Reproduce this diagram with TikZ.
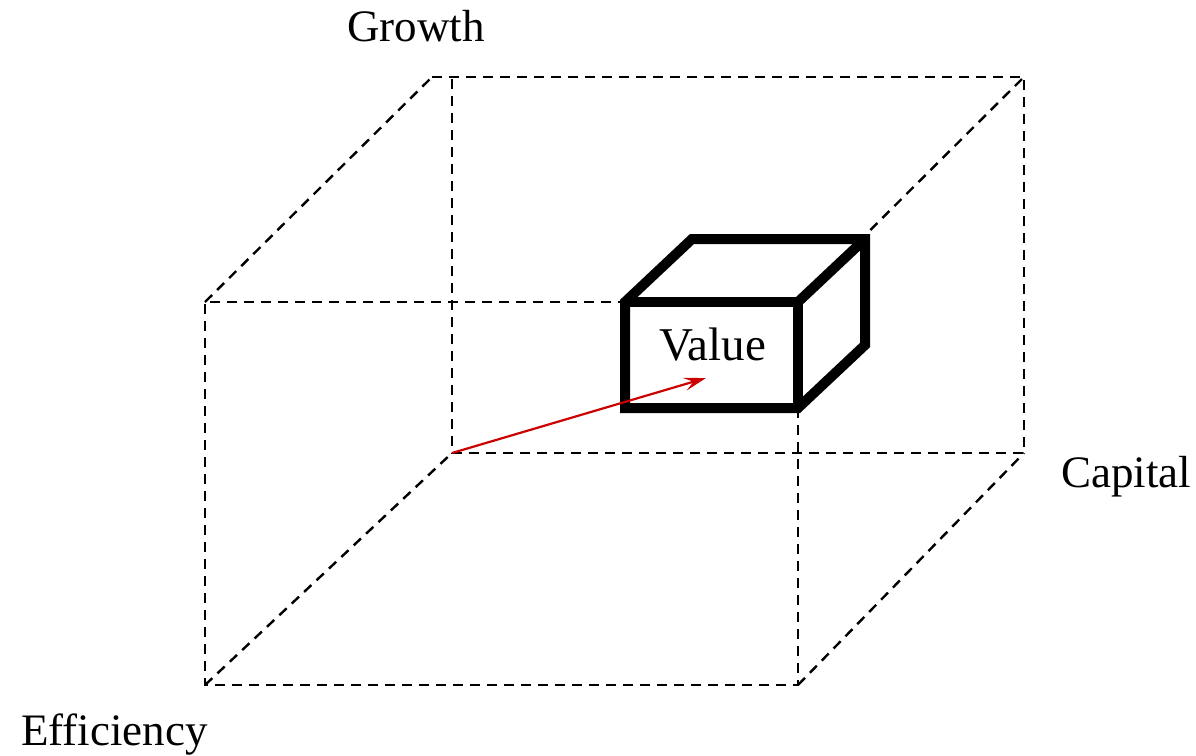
\documentclass[tikz,border=0pt]{standalone}
\usepackage{fontspec}
\setmainfont{Liberation Serif}
\usetikzlibrary{arrows.meta}
\definecolor{arrowred}{RGB}{204,0,0}
\tikzset{
  dashedge/.style={draw=black, line width=2.4pt, dash pattern=on 10pt off 7pt},
  boxedge/.style={draw=black, line width=10pt, line join=miter},
  lbl/.style={anchor=base west, inner sep=0pt, font=\fontsize{45}{50}\selectfont},
  vec/.style={draw=arrowred, line width=2.2pt, -{Stealth[length=22pt,width=13pt,inset=9pt]}}
}
\begin{document}
\begin{tikzpicture}[x=1pt,y=-1pt]
\useasboundingbox (0,0) rectangle (1196,755);
% big box corners
\coordinate (FTL) at (205,302);
\coordinate (FTR) at (798,302);
\coordinate (FBL) at (205,685);
\coordinate (FBR) at (798,685);
\coordinate (BTL) at (432,77);
\coordinate (BTLv) at (452,77);
\coordinate (BTR) at (1024,77);
\coordinate (BBL) at (452,453);
\coordinate (BBR) at (1024,453);
% big box dashed edges
\draw[dashedge] (BTL) -- (BTR) -- (BBR) -- (BBL) -- (BTLv);
\draw[dashedge] (FTL) -- (BTL);
\draw[dashedge] (FTR) -- (BTR);
\draw[dashedge] (FBL) -- (BBL);
\draw[dashedge] (FBR) -- (BBR);
\draw[dashedge] (FTR) -- (FTL) -- (FBL) -- (FBR) -- (FTR);
% small box
\coordinate (sFTL) at (625,302);
\coordinate (sFTR) at (798,302);
\coordinate (sFBL) at (625,408);
\coordinate (sFBR) at (798,408);
\coordinate (sBTL) at (692,239);
\coordinate (sBTR) at (865,239);
\coordinate (sBBR) at (865,345);
\fill[white] (sFBL) -- (sFTL) -- (sBTL) -- (sBTR) -- (sBBR) -- (sFBR) -- cycle;
\draw[boxedge] (sFBL) -- (sFTL) -- (sBTL) -- (sBTR) -- (sBBR) -- (sFBR) -- cycle;
\draw[boxedge] (sFTL) -- (sFTR) -- (sFBR);
\draw[boxedge] (sFTR) -- (sBTR);
\node[lbl, font=\fontsize{47}{52}\selectfont] (value) at (659,360) {Value};
% arrow
\coordinate (tip) at (706,378);
\draw[vec] (BBL) -- (tip);
% labels
\node[lbl] (growth) at (347,41) {Growth};
\node[lbl] (capital) at (1061,487) {Capital};
\node[lbl] (eff) at (21,745) {Efficiency};
\end{tikzpicture}
\end{document}
